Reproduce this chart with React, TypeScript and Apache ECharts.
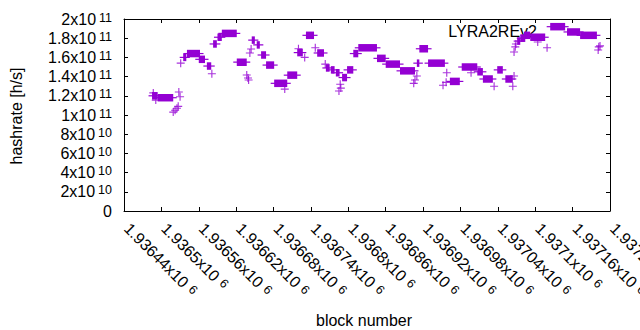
import React, { useEffect, useRef } from "react";
import * as echarts from "echarts";

// x axis (block number) and y axis (hashrate) ranges
const xMin = 1936440;
const xMax = 1937220;
const xStep = 60;
const yMin = 0;
const yMax = 2e11;
const yStep = 2e10;

// runs of consecutive blocks at (nearly) the same hashrate, values in 1e9 h/s
const runStart = [
  1936485, 1936494, 1936535, 1936541, 1936560, 1936573, 1936583, 1936590, 1936597, 1936621,
  1936645, 1936653, 1936660, 1936668, 1936681, 1936702, 1936718, 1936732, 1936750, 1936764,
  1936772, 1936780, 1936790, 1936798, 1936808, 1936816, 1936846, 1936860, 1936883, 1936910,
  1936914, 1936928, 1936963, 1936982, 1937007, 1937016, 1937039, 1937052, 1937071, 1937076,
  1937082, 1937092, 1937124, 1937151, 1937172,
];
const runEnd = [
  1936494, 1936519, 1936540, 1936562, 1936570, 1936580, 1936589, 1936597, 1936621, 1936637,
  1936650, 1936658, 1936668, 1936681, 1936702, 1936718, 1936727, 1936745, 1936761, 1936770,
  1936778, 1936786, 1936798, 1936808, 1936816, 1936846, 1936860, 1936883, 1936907, 1936914,
  1936928, 1936955, 1936979, 1937007, 1937016, 1937032, 1937048, 1937064, 1937076, 1937084,
  1937092, 1937116, 1937148, 1937172, 1937199,
];
const runValue = [
  120, 118, 160, 164, 158, 151, 174, 181, 185, 155,
  178, 173, 162.5, 152, 133, 141.5, 165, 183, 164.6, 149,
  147, 144, 139, 147, 164, 170, 159, 153, 146, 154,
  169, 154, 135, 150, 145, 137.5, 147, 137.5, 177, 180,
  183, 181, 192, 186.5, 183,
];

// isolated blocks, values in 1e9 h/s
const pointBlock = [
  1936487, 1936491, 1936519, 1936522, 1936525, 1936527, 1936528, 1936530, 1936531, 1936581,
  1936637, 1936639, 1936640, 1936642, 1936644, 1936698, 1936720, 1936730, 1936747, 1936763,
  1936785, 1936787, 1936788, 1936905, 1936907, 1936910, 1936952, 1936957, 1936958, 1936997,
  1937034, 1937064, 1937066, 1937066, 1937068, 1937069, 1937104, 1937119, 1937201, 1937202,
  1937204,
];
const pointValue = [
  123, 115.5, 103, 105, 107, 109, 124, 119, 154, 143,
  141.7, 138.5, 136.5, 164.6, 168.8, 127, 169, 160, 170, 153,
  125, 132, 128, 133, 136.5, 140.6, 131, 134, 144, 144,
  130, 130, 140.6, 165.6, 171, 174, 176, 170, 167.7, 171,
  172,
];

const seriesName = "LYRA2REv2";
const COLOR = "#9400d3";
const FONT = "'Liberation Sans', Arial, sans-serif";
const PLUS = "path://M3,0H4V3H7V4H4V7H3V4H0V3H3Z";

function sciLabel(v: number, mainStyle: string, supStyle: string): string {
  if (v === 0) return `{${mainStyle}|0}`;
  const e = Math.floor(Math.log10(v) + 1e-9);
  const m = parseFloat((v / Math.pow(10, e)).toFixed(5));
  return `{${mainStyle}|${m}x10}{${supStyle}|${e}}`;
}

const mainStyle = { fontSize: 16, lineHeight: 16, fontFamily: FONT, color: "#000", verticalAlign: "bottom" };
const supStyle = {
  fontSize: 12.5,
  lineHeight: 12.5,
  fontFamily: FONT,
  color: "#000",
  verticalAlign: "top",
  padding: [0, 0, 5.5, 3],
};
const rich = {
  m: mainStyle,
  mx: { ...mainStyle, padding: [0, 0, 0, 4] },
  s: supStyle,
  sx: { ...supStyle, padding: [0, 0, 5.5, 5] },
};

export default function App() {
  const ref = useRef<HTMLDivElement>(null);
  useEffect(() => {
    if (!ref.current) return;
    const chart = echarts.init(ref.current, null, { renderer: "svg" });
    const axisCommon = {
      axisLine: { show: true, onZero: false, lineStyle: { color: "#000", width: 1 } },
      axisTick: { show: true, inside: true, length: 4, lineStyle: { color: "#000", width: 1 } },
      splitLine: { show: false },
    };
    const runData = runStart.map((s, i) => [s, runEnd[i], runValue[i] * 1e9]);
    const pointData = pointBlock.map((b, i) => [b, pointValue[i] * 1e9]);
    chart.setOption({
      animation: false,
      grid: {
        left: 124,
        right: 30,
        top: 19,
        bottom: 119,
        containLabel: false,
        outerBoundsMode: "none",
      },
      xAxis: [
        {
          type: "value",
          position: "bottom",
          min: xMin,
          max: xMax,
          interval: xStep,
          ...axisCommon,
          axisLabel: {
            show: true,
            rotate: -45,
            margin: 12,
            hideOverlap: false,
            showMinLabel: true,
            showMaxLabel: true,
            formatter: (v: number) => sciLabel(v, "mx", "sx"),
            rich,
          },
        },
        {
          type: "value",
          position: "top",
          min: xMin,
          max: xMax,
          interval: xStep,
          ...axisCommon,
          axisLabel: { show: false },
        },
      ],
      yAxis: [
        {
          type: "value",
          position: "left",
          min: yMin,
          max: yMax,
          interval: yStep,
          ...axisCommon,
          axisLabel: {
            show: true,
            margin: 12,
            formatter: (v: number) => sciLabel(v, "m", "s"),
            rich,
          },
        },
        {
          type: "value",
          position: "right",
          min: yMin,
          max: yMax,
          interval: yStep,
          ...axisCommon,
          axisLabel: { show: false },
        },
      ],
      graphic: [
        {
          type: "text",
          x: 16.5,
          y: 116,
          rotation: Math.PI / 2,
          z: 0,
          style: {
            text: "hashrate [h/s]",
            fontSize: 16,
            fontFamily: FONT,
            fill: "#000",
            align: "center",
            verticalAlign: "middle",
            textAlign: "center",
            textVerticalAlign: "middle",
          },
        },
        {
          type: "text",
          x: 364,
          y: 320.5,
          z: 0,
          style: {
            text: "block number",
            fontSize: 16,
            fontFamily: FONT,
            fill: "#000",
            align: "center",
            verticalAlign: "middle",
            textAlign: "center",
            textVerticalAlign: "middle",
          },
        },
        {
          type: "text",
          x: 537,
          y: 31.5,
          z: 0,
          style: {
            text: seriesName,
            fontSize: 16,
            fontFamily: FONT,
            fill: "#000",
            align: "right",
            verticalAlign: "middle",
            textAlign: "right",
            textVerticalAlign: "middle",
          },
        },
      ],
      series: [
        {
          type: "custom",
          name: seriesName,
          xAxisIndex: 0,
          yAxisIndex: 0,
          z: 5,
          encode: { x: [0, 1], y: 2 },
          data: runData,
          renderItem: (_params: any, api: any) => {
            const s = api.coord([api.value(0), api.value(2)]);
            const e = api.coord([api.value(1), api.value(2)]);
            const h = 7.5;
            const arm = 3.5;
            const w = Math.max(e[0] - s[0], 1.2);
            return {
              type: "group",
              children: [
                {
                  type: "rect",
                  shape: { x: s[0], y: s[1] - h / 2, width: w, height: h },
                  style: { fill: COLOR },
                },
                {
                  type: "rect",
                  shape: { x: s[0] - arm, y: s[1] - 0.6, width: w + 2 * arm, height: 1.2 },
                  style: { fill: COLOR },
                },
              ],
            };
          },
        },
        {
          type: "scatter",
          name: seriesName,
          xAxisIndex: 0,
          yAxisIndex: 0,
          z: 5,
          symbol: PLUS,
          symbolSize: 8,
          itemStyle: { color: COLOR },
          data: pointData,
        },
      ],
    });
    return () => chart.dispose();
  }, []);
  return (
    <div
      ref={ref}
      style={{ position: "absolute", left: 0, top: 0, width: 640, height: 330 }}
    />
  );
}
